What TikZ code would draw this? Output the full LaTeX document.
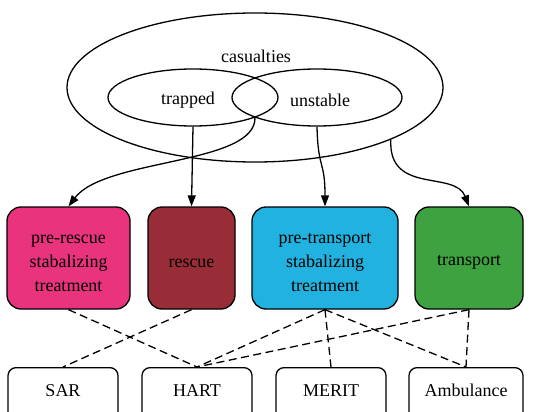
\documentclass[tikz,border=0pt]{standalone}
\usepackage{fontspec}
\setmainfont{Liberation Serif}
\usetikzlibrary{shapes.geometric,arrows.meta}

\begin{document}
\begin{tikzpicture}[x=1pt, y=-1pt, line width=1.3pt,
    every node/.style={font=\fontsize{18}{24}\selectfont},
    set node/.style={ellipse, draw, inner sep=0pt},
    task node/.style={rectangle, draw, rounded corners=14pt, align=center,
      minimum height=102pt, inner sep=0pt, execute at begin node={\rule{0pt}{#1}}},
    task node/.default=18.5pt,
    team node/.style={rectangle, draw, rounded corners=8pt, anchor=north,
      minimum width=110pt, minimum height=60pt, text height=12pt, text depth=14pt, inner sep=0pt},
    arr/.style={-{Triangle[length=11pt,width=8pt]}},
    link/.style={dash pattern=on 8pt off 4.5pt}]

  \path[use as bounding box, clip] (0,0) rectangle (533,412);

  % sets of casualties
  \node[set node, minimum width=376pt, minimum height=149pt] (cas) at (255,87.5) {};
  \node (castext) at (256,56) {casualties};
  \node[set node, minimum width=170pt, minimum height=57pt] (trap) at (193,97.5) {};
  \node[set node, minimum width=170pt, minimum height=57pt] (unst) at (317,97.5) {};
  \node (traptext) at (188,100) {trapped};
  \node (unsttext) at (320,100) {unstable};
  \coordinate (meet) at (255,117);

  % tasks
  \definecolor{prcol}{RGB}{233,51,125}
  \definecolor{rscol}{RGB}{152,45,55}
  \definecolor{ptcol}{RGB}{34,178,224}
  \definecolor{trcol}{RGB}{61,162,63}
  \node[task node=68pt, fill=prcol, minimum width=123pt] (pr) at (68.5,258) {pre-rescue\\stabalizing\\treatment};
  \node[task node, fill=rscol, minimum width=87pt] (rs) at (191.5,258) {rescue};
  \node[task node=68pt, fill=ptcol, minimum width=146pt] (pt) at (325,258) {pre-transport\\stabalizing\\treatment};
  \node[task node, fill=trcol, minimum width=108pt] (tr) at (469,258) {transport};

  % teams
  \node[team node] (sar) at (63,367) {SAR};
  \node[team node] (hart) at (197,367) {HART};
  \node[team node] (merit) at (331,367) {MERIT};
  \node[team node, minimum width=114pt] (amb) at (466,367) {Ambulance};

  \draw[arr] (meet) .. controls (257,165) and (105,158) .. (pr.north);
  \draw[arr] (trap.south) -- (rs.north);
  \draw[arr] (unst.south) .. controls (318,170) and (325,160) .. (pt.north);
  \draw[arr] (cas.-21.5) .. controls (388,195) and (455,170) .. (tr.north);

  \draw[link] (pr.south) -- (hart.north);
  \draw[link] (rs.south) -- (sar.north);
  \draw[link] (pt.south) -- (hart.north);
  \draw[link] (pt.south) -- (merit.north);
  \draw[link] (pt.south) -- (amb.north);
  \draw[link] (tr.south) -- (hart.north);
  \draw[link] (tr.south) -- (amb.north);
\end{tikzpicture}
\end{document}
